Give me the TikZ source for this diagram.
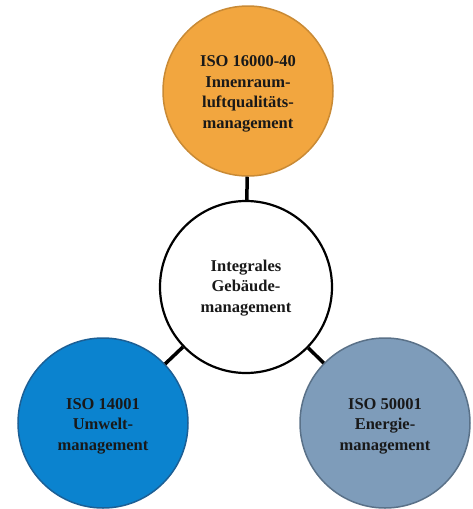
\documentclass[tikz,border=0pt]{standalone}
\usepackage{fontspec}
\setmainfont{Liberation Serif}
\definecolor{orangefill}{HTML}{F2A63F}
\definecolor{orangeedge}{HTML}{C98A35}
\definecolor{bluefill}{HTML}{0B83CF}
\definecolor{blueedge}{HTML}{1C5F95}
\definecolor{greyfill}{HTML}{7E9CBA}
\definecolor{greyedge}{HTML}{5A7188}
\tikzset{
  circ/.style={circle, minimum size=170pt, inner sep=0pt},
  lbl/.style={align=center, yshift=-3pt, inner sep=0pt,
    font=\fontsize{16.5}{20.5}\selectfont\bfseries, text=black!90},
  conn/.style={line width=3.5pt, black}
}
\begin{document}
\begin{tikzpicture}[x=1pt,y=-1pt]
\useasboundingbox (0,0) rectangle (472,509);
\node[circ, minimum size=172pt, draw=black, line width=2.2pt, fill=white,
  label={[lbl, yshift=2pt]center:Integrales\\Gebäude-\\management}] (c) at (246,287) {};
\node[circ, draw=orangeedge, line width=1.5pt, fill=orangefill,
  label={[lbl]center:ISO 16000-40\\Innenraum-\\luftqualitäts-\\management}] (t) at (248,91) {};
\node[circ, draw=blueedge, line width=1.5pt, fill=bluefill,
  label={[lbl]center:ISO 14001\\Umwelt-\\management}] (l) at (103,423) {};
\node[circ, draw=greyedge, line width=1.5pt, fill=greyfill,
  label={[lbl]center:ISO 50001\\Energie-\\management}] (r) at (385,423) {};
\draw[conn] (t) -- (c);
\draw[conn] (l) -- (c);
\draw[conn] (r) -- (c);
\end{tikzpicture}
\end{document}
